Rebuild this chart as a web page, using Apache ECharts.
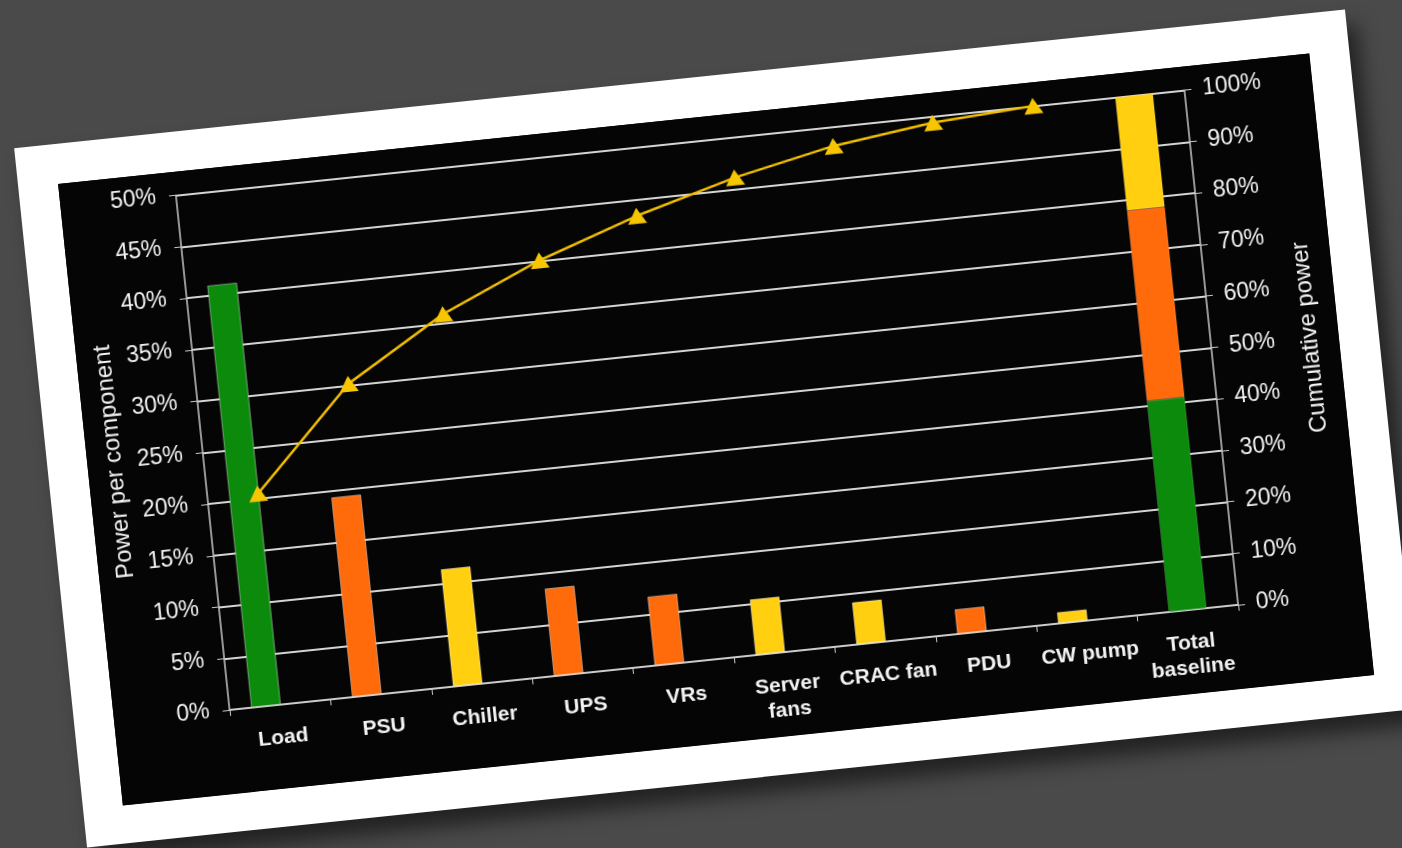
<!DOCTYPE html>
<html>
<head>
<meta charset="utf-8">
<script src="https://cdn.jsdelivr.net/npm/echarts@6/dist/echarts.min.js"></script>
<style>
  html, body { margin: 0; padding: 0; width: 1402px; height: 848px; overflow: hidden; background: #4a4a4a; }
  #card {
    position: absolute; left: 47px; top: 77px; width: 1338px; height: 703px;
    background: #ffffff;
    transform: rotate(-5.95deg); transform-origin: 50% 50%;
    box-shadow: 10px 16px 20px rgba(0,0,0,0.55);
  }
  #chart {
    position: absolute; left: 40px; top: 40px; width: 1258px; height: 625px;
    background: #050505;
  }
</style>
</head>
<body>
<div id="card"><div id="chart"></div></div>
<script>
// ---- data ----
const categories = ['Load', 'PSU', 'Chiller', 'UPS', 'VRs', 'Server\nfans', 'CRAC fan', 'PDU', 'CW pump', 'Total\nbaseline'];
const componentShare = [41, 19.4, 11.4, 8.5, 6.7, 5.4, 4.1, 2.4, 1.1];           // % of power (left axis)
const componentGroup = ['load', 'power', 'cooling', 'power', 'power', 'cooling', 'cooling', 'power', 'cooling'];
const cumulativeShare = [41, 60.3, 71.8, 80.2, 86.8, 92.2, 96.3, 98.8, 100];     // % (right axis)
const baselineParts = ['load', 'power', 'cooling'];
const baselineValues = [41, 37, 22];                                               // stacked total (right axis)
const leftTicks = { min: 0, max: 50, interval: 5 };
const rightTicks = { min: 0, max: 100, interval: 10 };

const groupColor = { load: '#0b8a0b', power: '#ff6a0a', cooling: '#ffcf10' };

const chart = echarts.init(document.getElementById('chart'), null, { renderer: 'canvas' });
const font = "'Liberation Sans', Arial, sans-serif";
const txt = '#f2f2f2';

const nTotal = categories.length - 1;
const stackSeries = baselineParts.map((p, i) => ({
  type: 'bar',
  name: p,
  xAxisIndex: 1,
  yAxisIndex: 1,
  stack: 'baseline',
  barWidth: 38,
  itemStyle: { color: groupColor[p], borderColor: 'rgba(255,255,255,0.35)', borderWidth: 0.5 },
  data: categories.map((c, k) => (k === nTotal ? baselineValues[i] : null)),
  z: 3
}));

chart.setOption({
  backgroundColor: '#050505',
  animation: false,
  grid: { left: 116, right: 128, top: 23.5, bottom: 84 },
  xAxis: [
    {
      type: 'category',
      data: categories,
      axisLine: { show: true, lineStyle: { color: '#c8c8c8', width: 1.5 } },
      axisTick: { show: true, length: 6, lineStyle: { color: '#c8c8c8' } },
      axisLabel: { color: txt, fontFamily: font, fontSize: 21, fontWeight: 'bold', lineHeight: 25, margin: 21, interval: 0 }
    },
    { type: 'category', data: categories, show: false }
  ],
  yAxis: [
    {
      type: 'value', position: 'left',
      min: leftTicks.min, max: leftTicks.max, interval: leftTicks.interval,
      name: 'Power per component', nameLocation: 'middle', nameRotate: 90, nameGap: 66,
      nameTextStyle: { color: txt, fontFamily: font, fontSize: 24 },
      axisLine: { show: true, lineStyle: { color: '#c8c8c8', width: 1.5 } },
      axisTick: { show: true, length: 7, lineStyle: { color: '#c8c8c8' } },
      axisLabel: { color: txt, fontFamily: font, fontSize: 23, margin: 20, formatter: '{value}%' },
      splitLine: { show: true, lineStyle: { color: '#d4d4d4', width: 2 } }
    },
    {
      type: 'value', position: 'right',
      min: rightTicks.min, max: rightTicks.max, interval: rightTicks.interval,
      name: 'Cumulative power', nameLocation: 'middle', nameRotate: 90, nameGap: 86,
      nameTextStyle: { color: txt, fontFamily: font, fontSize: 24 },
      axisLine: { show: true, lineStyle: { color: '#c8c8c8', width: 1.5 } },
      axisTick: { show: true, length: 7, lineStyle: { color: '#c8c8c8' } },
      axisLabel: { color: txt, fontFamily: font, fontSize: 23, margin: 18, formatter: '{value}%' },
      splitLine: { show: false }
    }
  ],
  series: [
    {
      type: 'bar',
      name: 'component',
      xAxisIndex: 0, yAxisIndex: 0,
      barWidth: 30, barGap: '0%',
      data: componentShare.map((v, i) => ({ value: v, itemStyle: { color: groupColor[componentGroup[i]] } })),
      itemStyle: { borderColor: 'rgba(255,255,255,0.45)', borderWidth: 1 },
      z: 3
    },
    {
      type: 'bar',
      name: 'spacer',
      xAxisIndex: 0, yAxisIndex: 0,
      barWidth: 28,
      data: categories.map(() => null)
    },
    ...stackSeries,
    {
      type: 'line',
      name: 'cumulative',
      xAxisIndex: 0, yAxisIndex: 1,
      data: cumulativeShare,
      symbol: 'triangle', symbolSize: [19, 16],
      lineStyle: { color: '#f2bf00', width: 2.5 },
      itemStyle: { color: '#f7c600' },
      z: 5
    }
  ]
});
</script>
</body>
</html>
